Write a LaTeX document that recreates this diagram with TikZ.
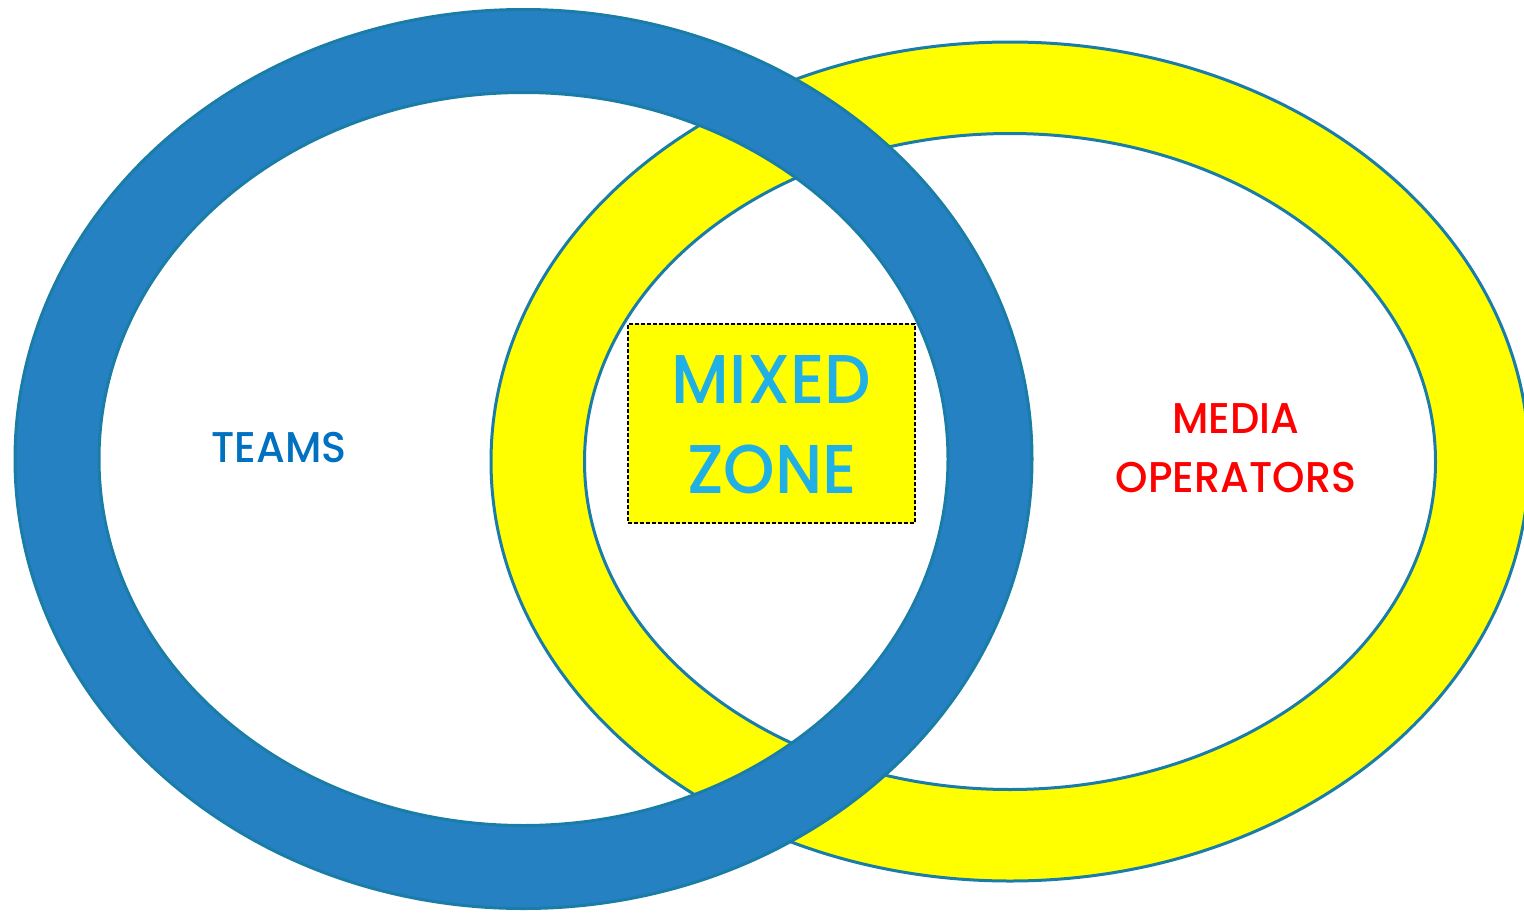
\documentclass[tikz,border=0pt]{standalone}
\usepackage{fontspec}
\setmainfont{Poppins}[UprightFont={* Medium}]
\definecolor{ringblue}{HTML}{2681C3}
\definecolor{ringline}{HTML}{1A7DA8}
\definecolor{ringyellow}{HTML}{FFFF00}
\definecolor{mixtext}{HTML}{20B0E6}
\definecolor{teamtext}{HTML}{0070C0}
\definecolor{mediatext}{HTML}{FF0000}
\begin{document}
\begin{tikzpicture}[x=1pt,y=-1pt,
  ring/.style={even odd rule, draw=ringline, line width=3pt},
  lbl/.style={anchor=base, inner sep=0pt},
  bigtxt/.style={lbl, text=mixtext, font=\fontsize{69}{69}\selectfont, xscale=0.95},
  smalltxt/.style={lbl, font=\fontsize{43}{43}\selectfont, xscale=0.96}]
\useasboundingbox (0,0) rectangle (1524,913);
\clip (0,0) rectangle (1524,913);
\coordinate (yc) at (1010,461.5);
\coordinate (bc) at (523.5,459);
\path[ring, fill=ringyellow] (yc) ellipse [x radius=519pt, y radius=419.5pt]
  (yc) ellipse [x radius=425.5pt, y radius=328pt];
\path[ring, fill=ringblue] (bc) ellipse [x radius=508.5pt, y radius=449.5pt]
  (bc) ellipse [x radius=424.5pt, y radius=366.5pt];
\node (mz) [draw=black, line width=1.5pt, dash pattern=on 4pt off 2pt, fill=ringyellow,
  minimum width=287pt, minimum height=199pt, inner sep=0pt] at (771.5,423.5) {};
\node (mixed) [bigtxt] at (771.5,403) {MIXED};
\node (zone) [bigtxt] at (772,493) {ZONE};
\node (teams) [smalltxt, text=teamtext] at (279,462) {TEAMS};
\node (media) [smalltxt, text=mediatext] at (1236,433) {MEDIA};
\node (oper) [smalltxt, text=mediatext] at (1236,492) {OPERATORS};
\end{tikzpicture}
\end{document}
